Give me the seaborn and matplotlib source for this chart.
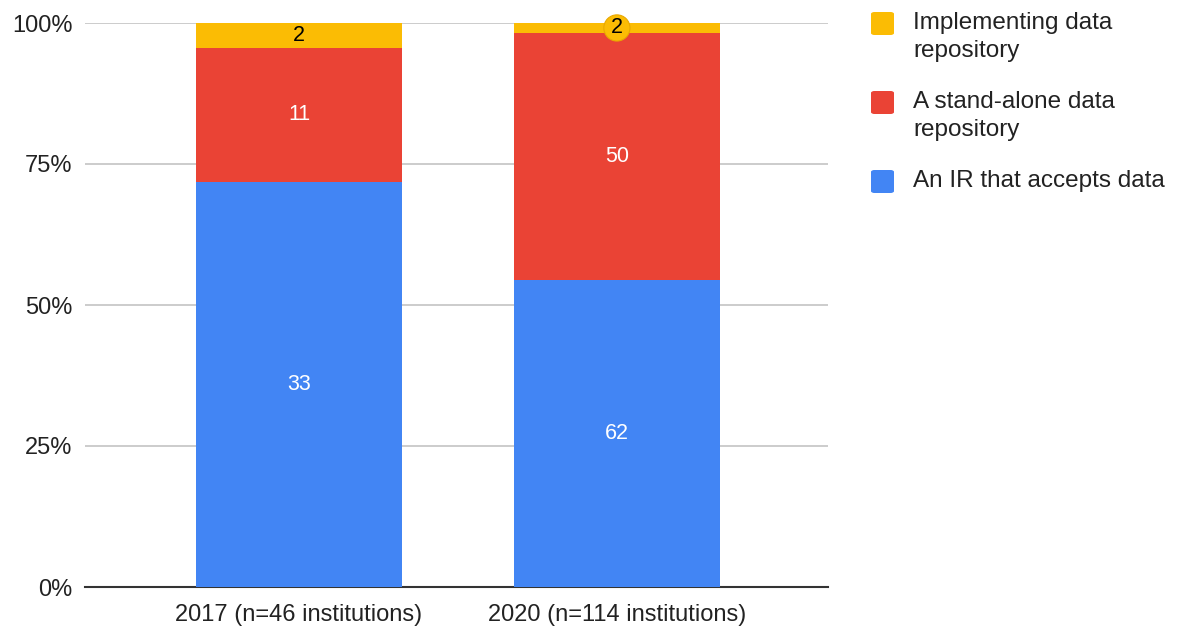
import matplotlib
matplotlib.use('Agg')
import matplotlib.pyplot as plt
from matplotlib.patches import FancyBboxPatch
import seaborn as sns
import pandas as pd

# data (counts of institutions)
years = ['2017 (n=46 institutions)', '2020 (n=114 institutions)']
ir_accepts = [33, 62]
stand_alone = [11, 50]
implementing = [2, 2]

series_names = ['Implementing data\nrepository', 'A stand-alone data\nrepository', 'An IR that accepts data']
colors = ['#FBBC04', '#EA4335', '#4285F4']

sns.set_theme(style='white')
plt.rcParams['font.family'] = ['Liberation Sans', 'DejaVu Sans']

df = pd.DataFrame({'year': years, 'ir': ir_accepts, 'sa': stand_alone, 'impl': implementing})
df['total'] = df['ir'] + df['sa'] + df['impl']
df['p_ir'] = df['ir'] / df['total'] * 100
df['p_sa'] = df['sa'] / df['total'] * 100
df['p_impl'] = df['impl'] / df['total'] * 100
df['top_sa'] = df['p_ir'] + df['p_sa']
df['top_impl'] = df['top_sa'] + df['p_impl']

W, H = 1181, 626
fig = plt.figure(figsize=(W / 100, H / 100), dpi=100)
ax = fig.add_axes([85 / W, 1 - 587 / H, 743 / W, 564 / H])

# stacked bars: draw cumulative tops, back to front
sns.barplot(data=df, x='year', y='top_impl', color=colors[0], width=0.648, saturation=1, ax=ax, zorder=2)
sns.barplot(data=df, x='year', y='top_sa', color=colors[1], width=0.648, saturation=1, ax=ax, zorder=3)
sns.barplot(data=df, x='year', y='p_ir', color=colors[2], width=0.648, saturation=1, ax=ax, zorder=4)
for p in ax.patches:
    p.set_edgecolor('none')

# segment labels
fs = 15.5
for i, row in df.iterrows():
    ax.text(i, row['p_ir'] / 2, str(row['ir']), color='white', ha='center', va='center', fontsize=fs, zorder=6)
    ax.text(i, row['p_ir'] + row['p_sa'] / 2, str(row['sa']), color='white', ha='center', va='center', fontsize=fs, zorder=6)
    y_impl = row['top_sa'] + row['p_impl'] / 2
    if row['p_impl'] > 3:
        ax.text(i, y_impl, str(row['impl']), color='black', ha='center', va='center', fontsize=fs, zorder=6)
    else:
        ax.text(i, y_impl, str(row['impl']), color='black', ha='center', va='center', fontsize=fs, zorder=6,
                bbox=dict(boxstyle='circle,pad=0.12', fc=colors[0], ec='#E8A800', lw=0.8))

ax.set_xlim(-0.673, 1.664)
ax.set_ylim(0, 100)
ax.set_yticks([0, 25, 50, 75, 100])
ax.set_yticklabels(['0%', '25%', '50%', '75%', '100%'])
ax.yaxis.grid(True, color='#CCCCCC', lw=1.4, zorder=0)
ax.set_axisbelow(True)
ax.set_xlabel('')
ax.set_ylabel('')
for s in ['top', 'right', 'left']:
    ax.spines[s].set_visible(False)
ax.spines['bottom'].set_color('#333333')
ax.spines['bottom'].set_linewidth(1.5)
ax.tick_params(axis='both', length=0, labelsize=17, colors='#222222')
ax.tick_params(axis='x', pad=12)
ax.tick_params(axis='y', pad=9)

# legend drawn by hand so squares line up with the first text line
square_y = [23.5, 102.5, 181.5]
text_y = [37, 116, 181.5]
for c, name, sy, ty in zip(colors, series_names, square_y, text_y):
    fig.add_artist(FancyBboxPatch((871 / W, 1 - (sy + 11.5) / H), 23 / W, 23 / H,
                                  boxstyle='round,pad=0,rounding_size=0.003',
                                  fc=c, ec='none', transform=fig.transFigure))
    fig.text(913 / W, 1 - ty / H, name, ha='left', va='center', fontsize=17.5,
             color='#222222', linespacing=1.4)

fig.savefig('out.png', dpi=100)
